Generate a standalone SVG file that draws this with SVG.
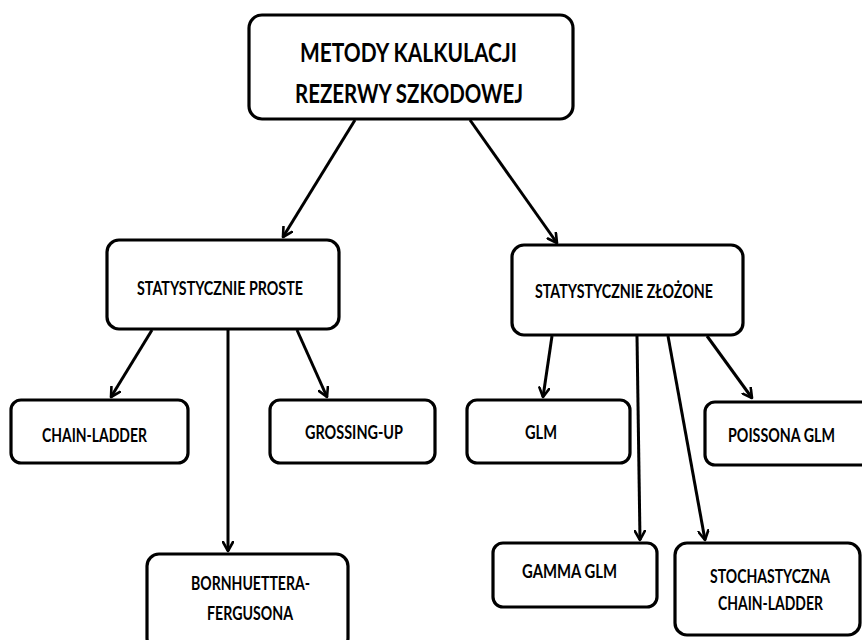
<svg xmlns="http://www.w3.org/2000/svg" width="862" height="640" viewBox="0 0 862 640">
  <style>
    .box { fill: #ffffff; stroke: #000000; stroke-width: 3.2; }
    .lbl { font-family: Lato, "Open Sans", "Liberation Sans", sans-serif; font-weight: bold; fill: #000000; }
    .big { font-size: 27px; }
    .small { font-size: 18px; }
    .edge { fill: none; stroke: #000000; stroke-width: 3; marker-end: url(#arrow); }
  </style>
  <defs>
    <marker id="arrow" viewBox="0 0 12 12" refX="10" refY="6" markerWidth="12" markerHeight="12" markerUnits="userSpaceOnUse" orient="auto">
      <polyline points="1,1 10,6 1,11" fill="none" stroke="#000000" stroke-width="2.6" stroke-linecap="round" stroke-linejoin="round"/>
    </marker>
  </defs>
  <rect width="862" height="640" fill="#ffffff"/>

  <g id="connectors">
    <line class="edge" x1="355" y1="120" x2="283" y2="237"/>
    <line class="edge" x1="470" y1="120" x2="557" y2="243"/>
    <line class="edge" x1="152" y1="330" x2="111" y2="397"/>
    <line class="edge" x1="228" y1="330" x2="228" y2="551"/>
    <line class="edge" x1="297" y1="330" x2="327" y2="397"/>
    <line class="edge" x1="552" y1="336" x2="543" y2="397"/>
    <line class="edge" x1="637" y1="336" x2="640" y2="540"/>
    <line class="edge" x1="668" y1="336" x2="705" y2="540"/>
    <line class="edge" x1="707" y1="336" x2="752" y2="398"/>
  </g>

  <g id="metody">
    <rect class="box" x="249" y="15" width="324" height="104" rx="13"/>
    <text class="lbl big" x="300" y="62" textLength="217" lengthAdjust="spacingAndGlyphs">METODY KALKULACJI</text>
    <text class="lbl big" x="295" y="103" textLength="228" lengthAdjust="spacingAndGlyphs">REZERWY SZKODOWEJ</text>
  </g>

  <g id="proste">
    <rect class="box" x="107" y="240" width="232" height="89" rx="12"/>
    <text class="lbl small" x="137" y="295" textLength="166" lengthAdjust="spacingAndGlyphs">STATYSTYCZNIE PROSTE</text>
  </g>

  <g id="zlozone">
    <rect class="box" x="512" y="245" width="231" height="90" rx="12"/>
    <text class="lbl small" x="535" y="298" textLength="178" lengthAdjust="spacingAndGlyphs">STATYSTYCZNIE ZŁOŻONE</text>
  </g>

  <g id="chain-ladder">
    <rect class="box" x="11" y="400" width="177" height="63" rx="10"/>
    <text class="lbl small" x="42" y="442" textLength="105" lengthAdjust="spacingAndGlyphs">CHAIN-LADDER</text>
  </g>

  <g id="grossing-up">
    <rect class="box" x="270" y="400" width="165" height="63" rx="10"/>
    <text class="lbl small" x="305" y="439" textLength="98" lengthAdjust="spacingAndGlyphs">GROSSING-UP</text>
  </g>

  <g id="bornhuettera">
    <rect class="box" x="147" y="554" width="201" height="96" rx="12"/>
    <text class="lbl small" x="191" y="590" textLength="119" lengthAdjust="spacingAndGlyphs">BORNHUETTERA-</text>
    <text class="lbl small" x="207" y="620" textLength="86" lengthAdjust="spacingAndGlyphs">FERGUSONA</text>
  </g>

  <g id="glm">
    <rect class="box" x="467" y="400" width="163" height="63" rx="10"/>
    <text class="lbl small" x="525" y="439" textLength="32" lengthAdjust="spacingAndGlyphs">GLM</text>
  </g>

  <g id="poissona">
    <rect class="box" x="705" y="402" width="170" height="63" rx="10"/>
    <text class="lbl small" x="728" y="442" textLength="107" lengthAdjust="spacingAndGlyphs">POISSONA GLM</text>
  </g>

  <g id="gamma">
    <rect class="box" x="493" y="543" width="164" height="64" rx="10"/>
    <text class="lbl small" x="522" y="578" textLength="95" lengthAdjust="spacingAndGlyphs">GAMMA GLM</text>
  </g>

  <g id="stochastyczna">
    <rect class="box" x="675" y="543" width="185" height="92" rx="12"/>
    <text class="lbl small" x="710" y="583" textLength="120" lengthAdjust="spacingAndGlyphs">STOCHASTYCZNA</text>
    <text class="lbl small" x="718" y="610" textLength="105" lengthAdjust="spacingAndGlyphs">CHAIN-LADDER</text>
  </g>
</svg>
